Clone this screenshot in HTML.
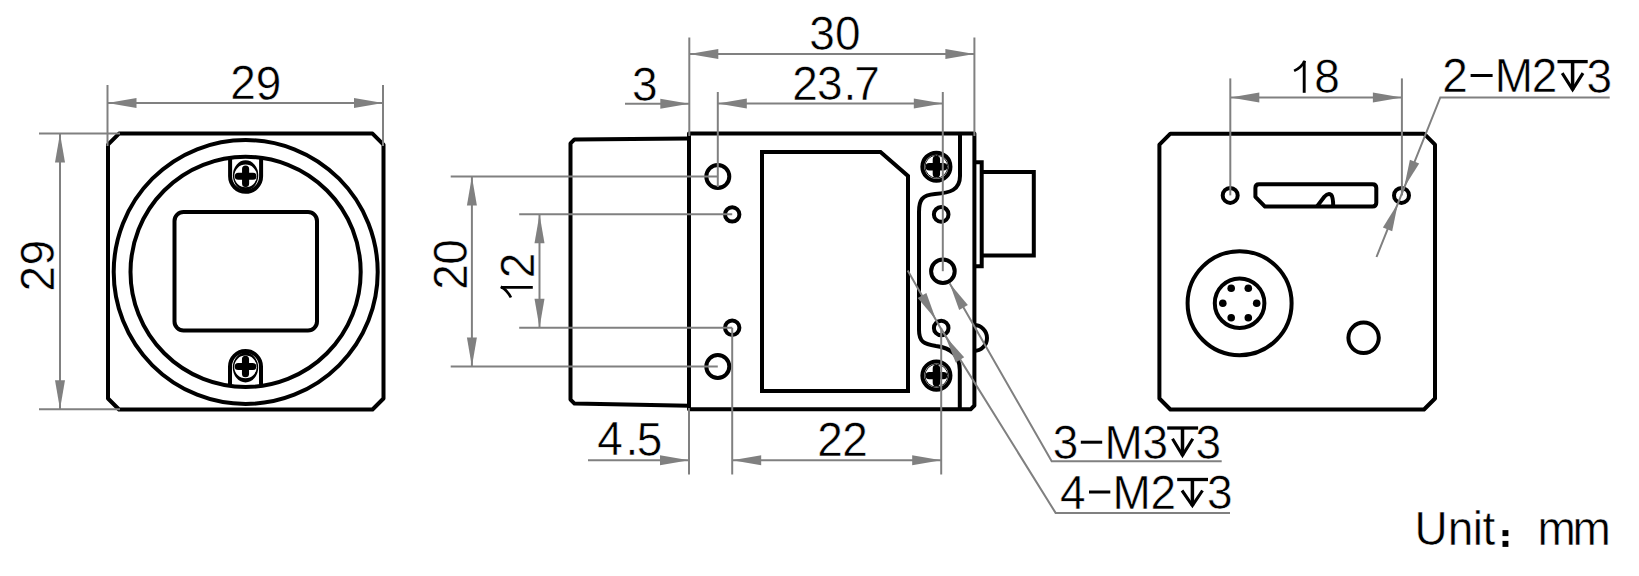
<!DOCTYPE html>
<html><head><meta charset="utf-8"><style>
html,body{margin:0;padding:0;background:#fff;}
body{width:1639px;height:576px;overflow:hidden;}
svg{display:block;}
.t{font-family:"Liberation Sans",sans-serif;fill:#000;stroke:#fff;stroke-width:0.5px;}
</style></head><body>
<svg width="1639" height="576" viewBox="0 0 1639 576">
<rect width="1639" height="576" fill="#fff"/>
<path d="M119,133.6 L372.5,133.6 L383.5,144.6 L383.5,398.5 L372.5,409.5 L119,409.5 L108,398.5 L108,144.6 Z" stroke="#000" stroke-width="4" fill="none" stroke-linejoin="round"/>
<circle cx="245.7" cy="272" r="132" stroke="#000" stroke-width="4" fill="none"/>
<circle cx="245.6" cy="271.9" r="115.1" stroke="#000" stroke-width="4" fill="none"/>
<rect x="174.5" y="212" width="142.5" height="118.5" rx="9" stroke="#000" stroke-width="4" fill="none"/>
<path d="M230.1,157.84843271572282 L230.1,176.3 A15.5,15.5 0 0 0 261.1,176.3 L261.1,157.84843271572282" stroke="#000" stroke-width="4" fill="none" stroke-linecap="butt"/>
<path d="M232.90,175.30 A12.7,15.0 0 1 0 258.30,175.30 A12.7,15.0 0 1 0 232.90,175.30 Z M234.30,175.90 A11.3,11.3 0 1 0 256.90,175.90 A11.3,11.3 0 1 0 234.30,175.90 Z" fill="#000" fill-rule="evenodd"/>
<path d="M238.29999999999998,176.3 L252.9,176.3 M245.6,169.0 L245.6,183.60000000000002" stroke="#000" stroke-width="7.1" fill="none" stroke-linecap="round"/>
<path d="M230.0,385.95156728427713 L230.0,366.5 A15.5,15.5 0 0 1 261.0,366.5 L261.0,385.95156728427713" stroke="#000" stroke-width="4" fill="none" stroke-linecap="butt"/>
<path d="M232.80,367.50 A12.7,15.0 0 1 0 258.20,367.50 A12.7,15.0 0 1 0 232.80,367.50 Z M234.20,366.90 A11.3,11.3 0 1 0 256.80,366.90 A11.3,11.3 0 1 0 234.20,366.90 Z" fill="#000" fill-rule="evenodd"/>
<path d="M238.2,366.5 L252.8,366.5 M245.5,359.2 L245.5,373.8" stroke="#000" stroke-width="7.1" fill="none" stroke-linecap="round"/>
<path d="M689,138.6 L574.5,139.4 L570.5,143.4 L570.5,399.6 L574.5,403.6 L689,405.8" stroke="#000" stroke-width="4" fill="none" stroke-linejoin="round"/>
<path d="M689,133.5 L974.4,133.5 L974.4,405.5 L970.6,409.3 L689,409.3 Z" stroke="#000" stroke-width="4" fill="none" stroke-linejoin="round"/>
<path d="M762,152 L880.5,152 L908,176 L908,391 L762,391 Z" stroke="#000" stroke-width="4" fill="none" stroke-linejoin="miter"/>
<path d="M960,133 L960,176 C960,190 950,193 935,194 C922,195 919,200 919,212 L919,330 C919,342 924,344 936,346 C952,348 959.8,356 959.8,370 L959.8,409" stroke="#000" stroke-width="4" fill="none" />
<circle cx="717.8" cy="176.5" r="11.5" stroke="#000" stroke-width="4" fill="none"/>
<circle cx="732.2" cy="214.4" r="7.2" stroke="#000" stroke-width="4" fill="none"/>
<circle cx="732.2" cy="327.8" r="7.2" stroke="#000" stroke-width="4" fill="none"/>
<circle cx="717.8" cy="366.5" r="11.5" stroke="#000" stroke-width="4" fill="none"/>
<circle cx="942.9" cy="271.2" r="11.8" stroke="#000" stroke-width="4" fill="none"/>
<circle cx="941.2" cy="214.4" r="7.3" stroke="#000" stroke-width="4" fill="none"/>
<circle cx="941.2" cy="328" r="7.3" stroke="#000" stroke-width="4" fill="none"/>
<circle cx="936.4" cy="166.7" r="14.05" stroke="#000" stroke-width="4" fill="none"/>
<circle cx="936.4" cy="166.7" r="11.4" stroke="#000" stroke-width="0.9" fill="none"/>
<path d="M929.1999999999999,166.7 L943.6,166.7 M936.4,159.5 L936.4,173.89999999999998" stroke="#000" stroke-width="7.4" fill="none" stroke-linecap="round"/>
<circle cx="936.4" cy="375.6" r="14.05" stroke="#000" stroke-width="4" fill="none"/>
<circle cx="936.4" cy="375.6" r="11.4" stroke="#000" stroke-width="0.9" fill="none"/>
<path d="M929.1999999999999,375.6 L943.6,375.6 M936.4,368.40000000000003 L936.4,382.8" stroke="#000" stroke-width="7.4" fill="none" stroke-linecap="round"/>
<path d="M974,325 A13,13 0 0 1 974,351" stroke="#000" stroke-width="4" fill="none" />
<path d="M974,162.2 L981.7,162.2 L981.7,266.2 L974,266.2" stroke="#000" stroke-width="4" fill="none" />
<path d="M981.7,172 L1033.8,172 L1033.8,255.5 L981.7,255.5" stroke="#000" stroke-width="4" fill="none" />
<path d="M1170.4,133.7 L1424,133.7 L1435,144.7 L1435,398.5 L1424,409.5 L1170.4,409.5 L1159.4,398.5 L1159.4,144.7 Z" stroke="#000" stroke-width="4" fill="none" stroke-linejoin="round"/>
<circle cx="1230.2" cy="195.4" r="7.5" stroke="#000" stroke-width="4" fill="none"/>
<circle cx="1401.5" cy="195.4" r="7.5" stroke="#000" stroke-width="4" fill="none"/>
<path d="M1259,184.2 L1372.5,184.2 Q1376.3,184.2 1376.3,188 L1376.3,202.8 Q1376.3,206.6 1372.5,206.6 L1265,206.6 L1255.4,196.8 L1255.4,188 Q1255.4,184.2 1259,184.2 Z" stroke="#000" stroke-width="4" fill="none" stroke-linejoin="round"/>
<path d="M1316.8,206.6 L1324.3,196.8 Q1328,192.6 1331.2,194.8 Q1333.2,197 1333.2,206.6" stroke="#000" stroke-width="4" fill="none" />
<circle cx="1239.6" cy="303.2" r="52" stroke="#000" stroke-width="4" fill="none"/>
<circle cx="1239.6" cy="303.2" r="24.8" stroke="#000" stroke-width="4" fill="none"/>
<circle cx="1231.2" cy="288.2" r="3.8" fill="#000"/>
<circle cx="1248.3" cy="288.2" r="3.8" fill="#000"/>
<circle cx="1222.8" cy="303.2" r="3.8" fill="#000"/>
<circle cx="1256.7" cy="303.2" r="3.8" fill="#000"/>
<circle cx="1231.2" cy="317.7" r="3.8" fill="#000"/>
<circle cx="1248.3" cy="317.7" r="3.8" fill="#000"/>
<circle cx="1363.6" cy="337.8" r="15.2" stroke="#000" stroke-width="4" fill="none"/>
<line x1="107.5" y1="85" x2="107.5" y2="146" stroke="#808080" stroke-width="2"/>
<line x1="383" y1="85" x2="383" y2="146" stroke="#808080" stroke-width="2"/>
<line x1="107.5" y1="103" x2="383" y2="103" stroke="#808080" stroke-width="2"/>
<path d="M107.50,103.00 L136.50,98.00 L136.50,108.00 Z" fill="#808080"/>
<path d="M383.00,103.00 L354.00,108.00 L354.00,98.00 Z" fill="#808080"/>
<text x="0" y="0" transform="translate(243.00,99.00) scale(1,1.065)" font-size="46" text-anchor="middle" class="t">2</text>
<text x="0" y="0" transform="translate(268.50,99.50) scale(1,1.065)" font-size="46" text-anchor="middle" class="t">9</text>
<line x1="39" y1="133.5" x2="120" y2="133.5" stroke="#808080" stroke-width="2"/>
<line x1="39" y1="409.3" x2="120" y2="409.3" stroke="#808080" stroke-width="2"/>
<line x1="60" y1="133.5" x2="60" y2="409.3" stroke="#808080" stroke-width="2"/>
<path d="M60.00,133.50 L65.00,162.50 L55.00,162.50 Z" fill="#808080"/>
<path d="M60.00,409.30 L55.00,380.30 L65.00,380.30 Z" fill="#808080"/>
<text x="0" y="0" transform="rotate(-90) translate(-278.60,53.90) scale(1,1.065)" font-size="46" text-anchor="middle" class="t">2</text>
<text x="0" y="0" transform="rotate(-90) translate(-252.75,53.90) scale(1,1.065)" font-size="46" text-anchor="middle" class="t">9</text>
<line x1="689.3" y1="37.5" x2="689.3" y2="136" stroke="#808080" stroke-width="2"/>
<line x1="974.4" y1="37.5" x2="974.4" y2="136" stroke="#808080" stroke-width="2"/>
<line x1="689.3" y1="53.9" x2="974.4" y2="53.9" stroke="#808080" stroke-width="2"/>
<path d="M689.30,53.90 L718.30,48.90 L718.30,58.90 Z" fill="#808080"/>
<path d="M974.40,53.90 L945.40,58.90 L945.40,48.90 Z" fill="#808080"/>
<text x="0" y="0" transform="translate(822.00,50.30) scale(1,1.065)" font-size="46" text-anchor="middle" class="t">3</text>
<text x="0" y="0" transform="translate(847.70,50.30) scale(1,1.065)" font-size="46" text-anchor="middle" class="t">0</text>
<line x1="717.8" y1="92" x2="717.8" y2="187" stroke="#808080" stroke-width="2"/>
<line x1="942.8" y1="92" x2="942.8" y2="271.2" stroke="#808080" stroke-width="2"/>
<line x1="717.8" y1="103.6" x2="942.8" y2="103.6" stroke="#808080" stroke-width="2"/>
<path d="M717.80,103.60 L746.80,98.60 L746.80,108.60 Z" fill="#808080"/>
<path d="M942.80,103.60 L913.80,108.60 L913.80,98.60 Z" fill="#808080"/>
<text x="0" y="0" transform="translate(805.10,100.00) scale(1,1.065)" font-size="46" text-anchor="middle" class="t">2</text>
<text x="0" y="0" transform="translate(829.80,100.20) scale(1,1.065)" font-size="46" text-anchor="middle" class="t">3</text>
<text x="0" y="0" transform="translate(849.80,100.00) scale(1,1.065)" font-size="46" text-anchor="middle" class="t">.</text>
<text x="0" y="0" transform="translate(867.10,100.00) scale(1,1.065)" font-size="46" text-anchor="middle" class="t">7</text>
<line x1="625" y1="103.8" x2="689.3" y2="103.8" stroke="#808080" stroke-width="2"/>
<path d="M689.30,103.80 L660.30,108.80 L660.30,98.80 Z" fill="#808080"/>
<text x="0" y="0" transform="translate(644.70,101.10) scale(1,1.065)" font-size="46" text-anchor="middle" class="t">3</text>
<line x1="450.7" y1="176.6" x2="717.8" y2="176.6" stroke="#808080" stroke-width="2"/>
<line x1="450.7" y1="366.6" x2="717.8" y2="366.6" stroke="#808080" stroke-width="2"/>
<line x1="471.9" y1="176.6" x2="471.9" y2="366.6" stroke="#808080" stroke-width="2"/>
<path d="M471.90,176.60 L476.90,205.60 L466.90,205.60 Z" fill="#808080"/>
<path d="M471.90,366.60 L466.90,337.60 L476.90,337.60 Z" fill="#808080"/>
<text x="0" y="0" transform="rotate(-90) translate(-277.00,466.50) scale(1,1.065)" font-size="46" text-anchor="middle" class="t">2</text>
<text x="0" y="0" transform="rotate(-90) translate(-252.00,466.50) scale(1,1.065)" font-size="46" text-anchor="middle" class="t">0</text>
<line x1="519.2" y1="214.2" x2="732.2" y2="214.2" stroke="#808080" stroke-width="2"/>
<line x1="519.2" y1="327.8" x2="732.2" y2="327.8" stroke="#808080" stroke-width="2"/>
<line x1="539.5" y1="214.2" x2="539.5" y2="327.8" stroke="#808080" stroke-width="2"/>
<path d="M539.50,214.20 L544.50,243.20 L534.50,243.20 Z" fill="#808080"/>
<path d="M539.50,327.80 L534.50,298.80 L544.50,298.80 Z" fill="#808080"/>
<path d="M532.80,287.40 L500.90,287.40" stroke="#000" stroke-width="2.9" fill="none"/>
<path d="M500.80,286.70 Q507.40,290.20 510.90,297.50" stroke="#000" stroke-width="2.7" fill="none"/>
<text x="0" y="0" transform="rotate(-90) translate(-265.50,534.30) scale(1,1.065)" font-size="46" text-anchor="middle" class="t">2</text>
<line x1="689" y1="408" x2="689" y2="474.5" stroke="#808080" stroke-width="2"/>
<line x1="732.2" y1="327.8" x2="732.2" y2="474.5" stroke="#808080" stroke-width="2"/>
<line x1="941.2" y1="328" x2="941.2" y2="474.5" stroke="#808080" stroke-width="2"/>
<line x1="588" y1="460.2" x2="689" y2="460.2" stroke="#808080" stroke-width="2"/>
<path d="M689.00,460.20 L660.00,465.20 L660.00,455.20 Z" fill="#808080"/>
<text x="0" y="0" transform="translate(610.00,455.30) scale(1,1.065)" font-size="46" text-anchor="middle" class="t">4</text>
<text x="0" y="0" transform="translate(632.00,455.30) scale(1,1.065)" font-size="46" text-anchor="middle" class="t">.</text>
<text x="0" y="0" transform="translate(649.50,455.50) scale(1,1.065)" font-size="46" text-anchor="middle" class="t">5</text>
<line x1="732.2" y1="460.2" x2="941.2" y2="460.2" stroke="#808080" stroke-width="2"/>
<path d="M732.20,460.20 L761.20,455.20 L761.20,465.20 Z" fill="#808080"/>
<path d="M941.20,460.20 L912.20,465.20 L912.20,455.20 Z" fill="#808080"/>
<text x="0" y="0" transform="translate(830.00,456.10) scale(1,1.065)" font-size="46" text-anchor="middle" class="t">2</text>
<text x="0" y="0" transform="translate(855.00,456.10) scale(1,1.065)" font-size="46" text-anchor="middle" class="t">2</text>
<line x1="1230.3" y1="78.4" x2="1230.3" y2="195.4" stroke="#808080" stroke-width="2"/>
<line x1="1401.9" y1="78.4" x2="1401.9" y2="195.4" stroke="#808080" stroke-width="2"/>
<line x1="1230.3" y1="97.4" x2="1401.9" y2="97.4" stroke="#808080" stroke-width="2"/>
<path d="M1230.30,97.40 L1259.30,92.40 L1259.30,102.40 Z" fill="#808080"/>
<path d="M1401.90,97.40 L1372.90,102.40 L1372.90,92.40 Z" fill="#808080"/>
<path d="M1304.20,92.80 L1304.20,60.90" stroke="#000" stroke-width="2.9" fill="none"/>
<path d="M1304.90,60.80 Q1301.40,67.40 1294.10,70.90" stroke="#000" stroke-width="2.7" fill="none"/>
<text x="0" y="0" transform="translate(1327.00,93.00) scale(1,1.065)" font-size="46" text-anchor="middle" class="t">8</text>
<polyline points="949.6,283.2 1051.7,461.2 1221.7,461.2" fill="none" stroke="#808080" stroke-width="2"/>
<path d="M949.60,283.20 L967.87,305.00 L959.19,309.98 Z" fill="#808080"/>
<text x="0" y="0" transform="translate(1065.60,459.00) scale(1,1.065)" font-size="46" text-anchor="middle" class="t">3</text>
<rect x="1080.8" y="440.7" width="21.40000000000009" height="3.0" fill="#000"/>
<text x="0" y="0" transform="translate(1123.70,459.00) scale(1,1.065)" font-size="46" text-anchor="middle" class="t">M</text>
<text x="0" y="0" transform="translate(1155.40,459.20) scale(1,1.065)" font-size="46" text-anchor="middle" class="t">3</text>
<path d="M1167.2,428 L1198.1,428" stroke="#000" stroke-width="3.3" fill="none" stroke-linecap="butt"/>
<path d="M1182.5,428 L1182.5,455.5" stroke="#000" stroke-width="3.5" fill="none" />
<path d="M1172.5,438.75 L1182.5,455.3 L1192.8,438.75" stroke="#000" stroke-width="3.1" fill="none" stroke-linejoin="miter"/>
<text x="0" y="0" transform="translate(1208.30,459.20) scale(1,1.065)" font-size="46" text-anchor="middle" class="t">3</text>
<polyline points="907.7,270.5 940.5,327.9 1055.6,512.9 1230,512.9" fill="none" stroke="#808080" stroke-width="2"/>
<path d="M936.00,319.70 L917.70,297.92 L926.37,292.94 Z" fill="#808080"/>
<path d="M945.10,336.10 L964.18,357.19 L955.70,362.49 Z" fill="#808080"/>
<text x="0" y="0" transform="translate(1072.70,508.70) scale(1,1.065)" font-size="46" text-anchor="middle" class="t">4</text>
<rect x="1089" y="490.5" width="21.299999999999955" height="3.0" fill="#000"/>
<text x="0" y="0" transform="translate(1131.60,508.70) scale(1,1.065)" font-size="46" text-anchor="middle" class="t">M</text>
<text x="0" y="0" transform="translate(1163.20,508.70) scale(1,1.065)" font-size="46" text-anchor="middle" class="t">2</text>
<path d="M1177.2,479.5 L1208,479.5" stroke="#000" stroke-width="3.3" fill="none" stroke-linecap="butt"/>
<path d="M1192.4,479.5 L1192.4,505.8" stroke="#000" stroke-width="3.5" fill="none" />
<path d="M1182,490.5 L1192.4,505.6 L1202.5,490.5" stroke="#000" stroke-width="3.1" fill="none" stroke-linejoin="miter"/>
<text x="0" y="0" transform="translate(1219.70,509.00) scale(1,1.065)" font-size="46" text-anchor="middle" class="t">3</text>
<polyline points="1376.5,257 1440.3,97.5 1609.7,97.5" fill="none" stroke="#808080" stroke-width="2"/>
<path d="M1404.10,187.50 L1409.91,159.66 L1419.19,163.39 Z" fill="#808080"/>
<path d="M1397.90,203.30 L1392.18,231.16 L1382.89,227.46 Z" fill="#808080"/>
<text x="0" y="0" transform="translate(1455.00,92.20) scale(1,1.065)" font-size="46" text-anchor="middle" class="t">2</text>
<rect x="1470.6" y="74.0" width="22.0" height="3.0" fill="#000"/>
<text x="0" y="0" transform="translate(1513.80,92.20) scale(1,1.065)" font-size="46" text-anchor="middle" class="t">M</text>
<text x="0" y="0" transform="translate(1544.50,92.20) scale(1,1.065)" font-size="46" text-anchor="middle" class="t">2</text>
<path d="M1557.5,61.6 L1587.7,61.6" stroke="#000" stroke-width="3.3" fill="none" stroke-linecap="butt"/>
<path d="M1572.6,61.6 L1572.6,89.7" stroke="#000" stroke-width="3.5" fill="none" />
<path d="M1562.2,73.2 L1572.6,89.5 L1583,73.2" stroke="#000" stroke-width="3.1" fill="none" stroke-linejoin="miter"/>
<text x="0" y="0" transform="translate(1599.20,92.50) scale(1,1.065)" font-size="46" text-anchor="middle" class="t">3</text>
<text x="0" y="0" transform="translate(1431.00,544.80) scale(1,1.065)" font-size="46" text-anchor="middle" class="t">U</text>
<text x="0" y="0" transform="translate(1460.50,544.50) scale(1,1.065)" font-size="46" text-anchor="middle" class="t">n</text>
<text x="0" y="0" transform="translate(1477.80,544.50) scale(1,1.065)" font-size="46" text-anchor="middle" class="t">i</text>
<text x="0" y="0" transform="translate(1489.00,544.80) scale(1,1.065)" font-size="46" text-anchor="middle" class="t">t</text>
<rect x="1502.5" y="530.1" width="5.9" height="6" fill="#000"/>
<rect x="1502.5" y="540.9" width="5.9" height="6" fill="#000"/>
<text x="0" y="0" transform="translate(1556.70,544.50) scale(1,1.065)" font-size="46" text-anchor="middle" class="t">m</text>
<text x="0" y="0" transform="translate(1591.60,544.50) scale(1,1.065)" font-size="46" text-anchor="middle" class="t">m</text>
</svg></body></html>
